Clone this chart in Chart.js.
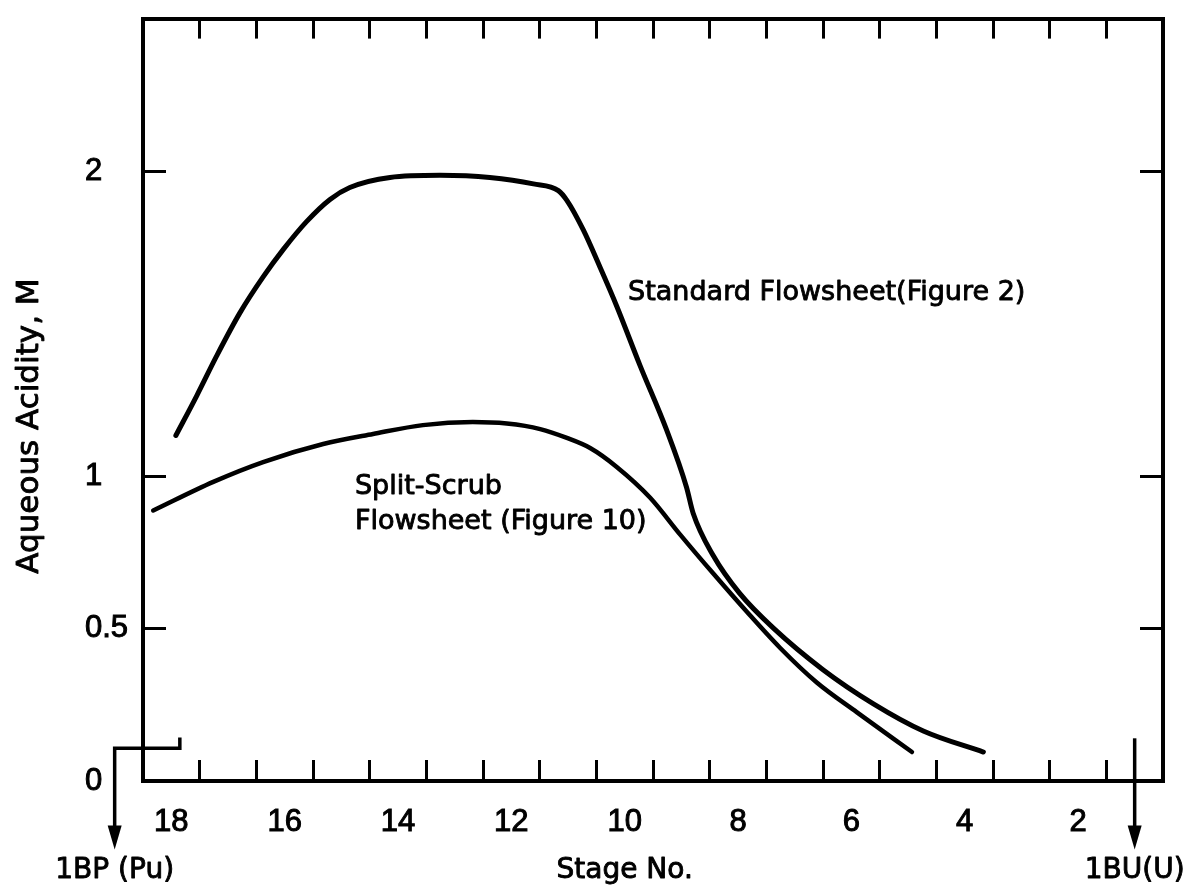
<!DOCTYPE html>
<html>
<head>
<meta charset="utf-8">
<script src="https://cdn.jsdelivr.net/npm/chart.js@4.4.1/dist/chart.umd.min.js"></script>
<style>
  html, body { margin: 0; padding: 0; background: #fff; }
  canvas { display: block; }
</style>
</head>
<body>
<canvas id="chart" width="1184" height="893"></canvas>
<script>
// Stage numbers printed under the axis, and the stage boundaries marked by ticks
const stageLabels = [18, 16, 14, 12, 10, 8, 6, 4, 2];
const stageDividers = [17.5, 16.5, 15.5, 14.5, 13.5, 12.5, 11.5, 10.5, 9.5, 8.5, 7.5, 6.5, 5.5, 4.5, 3.5, 2.5, 1.5];

// Acidity axis: printed values and the values that get a tick mark
const acidityTicks = [0, 0.5, 1, 2];
const acidityTickMarks = [0.5, 1, 2];

// Standard flowsheet (Figure 2)
const standardStages  = [17.92, 17.55, 17.2, 16.79, 16.38, 16.02, 15.61, 15.2, 14.85, 14.14, 13.26, 12.38, 11.61, 11.17, 11.02, 10.73, 10.44, 10.14, 9.73, 9.26, 8.91, 8.79, 8.44, 7.97, 7.38, 6.5, 5.61, 4.73, 3.67];
const standardAcidity = [1.133, 1.264, 1.394, 1.535, 1.653, 1.744, 1.835, 1.907, 1.946, 1.979, 1.986, 1.979, 1.958, 1.936, 1.904, 1.807, 1.687, 1.557, 1.363, 1.151, 0.964, 0.877, 0.74, 0.615, 0.502, 0.365, 0.253, 0.164, 0.095];

// Split-scrub flowsheet (Figure 10)
const splitStages  = [18.32, 17.26, 16.38, 15.32, 14.44, 13.56, 12.68, 12.08, 11.49, 11.02, 10.61, 10.14, 9.55, 9.02, 8.44, 7.84, 7.26, 6.61, 5.9, 4.93];
const splitAcidity = [0.887, 0.981, 1.046, 1.105, 1.138, 1.167, 1.177, 1.172, 1.154, 1.125, 1.092, 1.03, 0.929, 0.808, 0.681, 0.554, 0.437, 0.323, 0.225, 0.095];

const TEXT_FONT = '"DejaVu Sans", "Liberation Sans", sans-serif';
const NUM_FONT = '"Liberation Sans", Arial, sans-serif';
const INK = '#000';

const toPoints = (xs, ys) => xs.map((x, i) => ({ x, y: ys[i] }));

// Captions, stream arrows and axis titles, placed in stage / acidity units
const captions = [
  { text: 'Standard Flowsheet(Figure 2)', stage: 9.94, acidity: 1.60 },
  { text: 'Split-Scrub', stage: 14.76, acidity: 0.963 },
  { text: 'Flowsheet (Figure 10)', stage: 14.76, acidity: 0.848 }
];
const streams = [
  { name: '1BP (Pu)', path: [[17.85, 0.143], [17.85, 0.107], [19, 0.107]], stage: 19 },
  { name: '1BU(U)', path: [[1, 0.14]], stage: 1 }
];
const arrowTip = -0.225;
const bottomTextLevel = -0.293;
const yTitleLevel = 1.164;

function arrowDown(ctx, x, tipY) {
  ctx.beginPath();
  ctx.moveTo(x, tipY);
  ctx.lineTo(x - 7, tipY - 24);
  ctx.lineTo(x + 7, tipY - 24);
  ctx.closePath();
  ctx.fill();
}

// Slightly heavier lettering: fill plus a thin outline of the same ink
function letter(ctx, text, x, y, weight) {
  ctx.fillText(text, x, y);
  ctx.lineWidth = weight;
  ctx.strokeText(text, x, y);
}

const notesPlugin = {
  id: 'notes',
  afterDraw(chart) {
    const { ctx, scales: { x, y }, chartArea } = chart;
    const px = v => x.getPixelForValue(v);
    const py = v => y.getPixelForValue(v);
    ctx.save();
    ctx.fillStyle = INK;
    ctx.strokeStyle = INK;
    ctx.lineJoin = 'round';

    ctx.font = '27px ' + TEXT_FONT;
    ctx.textAlign = 'left';
    ctx.textBaseline = 'middle';
    captions.forEach(c => letter(ctx, c.text, px(c.stage), py(c.acidity), 0.9));

    ctx.lineWidth = 3.5;
    ctx.lineCap = 'butt';
    ctx.lineJoin = 'miter';
    const tipY = py(arrowTip);
    streams.forEach(s => {
      ctx.beginPath();
      s.path.forEach(([st, ac], i) => {
        if (i === 0) ctx.moveTo(px(st), py(ac)); else ctx.lineTo(px(st), py(ac));
      });
      ctx.lineTo(px(s.stage), tipY - 20);
      ctx.stroke();
      arrowDown(ctx, px(s.stage), tipY);
    });

    ctx.lineJoin = 'round';
    ctx.font = '28px ' + TEXT_FONT;
    ctx.textAlign = 'center';
    ctx.textBaseline = 'middle';
    const ty = py(bottomTextLevel);
    letter(ctx, 'Stage No.', px(10), ty, 0.9);
    streams.forEach(s => letter(ctx, s.name, px(s.stage), ty, 0.9));

    ctx.save();
    ctx.translate(chartArea.left - 113, py(yTitleLevel));
    ctx.rotate(-Math.PI / 2);
    ctx.font = '31px ' + TEXT_FONT;
    ctx.textAlign = 'center';
    ctx.textBaseline = 'middle';
    letter(ctx, 'Aqueous Acidity, M', 0, 0, 0.9);
    ctx.restore();

    ctx.restore();
  }
};

const stageTicks = () => [...stageLabels, ...stageDividers].sort((a, b) => a - b).map(v => ({ value: v }));
const acidTicks = () => acidityTicks.map(v => ({ value: v }));
const frame = { display: true, color: INK, width: 4 };
const stageMark = c => (c.tick && stageDividers.includes(c.tick.value)) ? 3 : 0;
const acidMark = c => (c.tick && acidityTickMarks.includes(c.tick.value)) ? 3 : 0;
const numberFont = { family: NUM_FONT, size: 31 };

new Chart(document.getElementById('chart'), {
  type: 'line',
  data: {
    datasets: [
      {
        label: 'Standard Flowsheet (Figure 2)',
        data: toPoints(standardStages, standardAcidity),
        borderColor: INK,
        borderWidth: 5,
        borderCapStyle: 'round',
        pointRadius: 0,
        cubicInterpolationMode: 'monotone',
        fill: false
      },
      {
        label: 'Split-Scrub Flowsheet (Figure 10)',
        data: toPoints(splitStages, splitAcidity),
        borderColor: INK,
        borderWidth: 4.5,
        borderCapStyle: 'round',
        pointRadius: 0,
        cubicInterpolationMode: 'monotone',
        fill: false
      }
    ]
  },
  options: {
    responsive: false,
    animation: false,
    devicePixelRatio: 1,
    layout: { padding: { top: 14, right: 21, bottom: 0, left: 85 } },
    plugins: { legend: { display: false }, tooltip: { enabled: false } },
    scales: {
      x: {
        type: 'linear', position: 'bottom', reverse: true, min: 0.5, max: 18.5,
        afterBuildTicks: s => { s.ticks = stageTicks(); },
        afterFit: s => { s.height = 112; },
        ticks: {
          autoSkip: false, maxRotation: 0, minRotation: 0, padding: 44,
          color: INK, font: numberFont, textStrokeColor: INK, textStrokeWidth: 1,
          callback: v => stageLabels.includes(v) ? String(v) : ''
        },
        grid: { display: true, drawOnChartArea: false, drawTicks: true, tickLength: -21, color: INK, lineWidth: stageMark },
        border: frame
      },
      x2: {
        type: 'linear', position: 'top', reverse: true, min: 0.5, max: 18.5,
        afterBuildTicks: s => { s.ticks = stageTicks(); },
        afterFit: s => { s.height = 0; },
        ticks: { display: false, autoSkip: false },
        grid: { display: true, drawOnChartArea: false, drawTicks: true, tickLength: -20, color: INK, lineWidth: stageMark },
        border: frame
      },
      y: {
        type: 'linear', position: 'left', min: 0, max: 2.5,
        afterBuildTicks: s => { s.ticks = acidTicks(); },
        afterFit: s => { s.width = 58; },
        ticks: {
          crossAlign: 'far', padding: 0, color: INK, font: numberFont,
          textStrokeColor: INK, textStrokeWidth: 1,
          callback: v => String(v)
        },
        grid: { display: true, drawOnChartArea: false, drawTicks: true, tickLength: -23, color: INK, lineWidth: acidMark },
        border: frame
      },
      y2: {
        type: 'linear', position: 'right', min: 0, max: 2.5,
        afterBuildTicks: s => { s.ticks = acidTicks(); },
        afterFit: s => { s.width = 0; },
        ticks: { display: false },
        grid: { display: true, drawOnChartArea: false, drawTicks: true, tickLength: -23, color: INK, lineWidth: acidMark },
        border: frame
      }
    }
  },
  plugins: [notesPlugin]
});
</script>
</body>
</html>
